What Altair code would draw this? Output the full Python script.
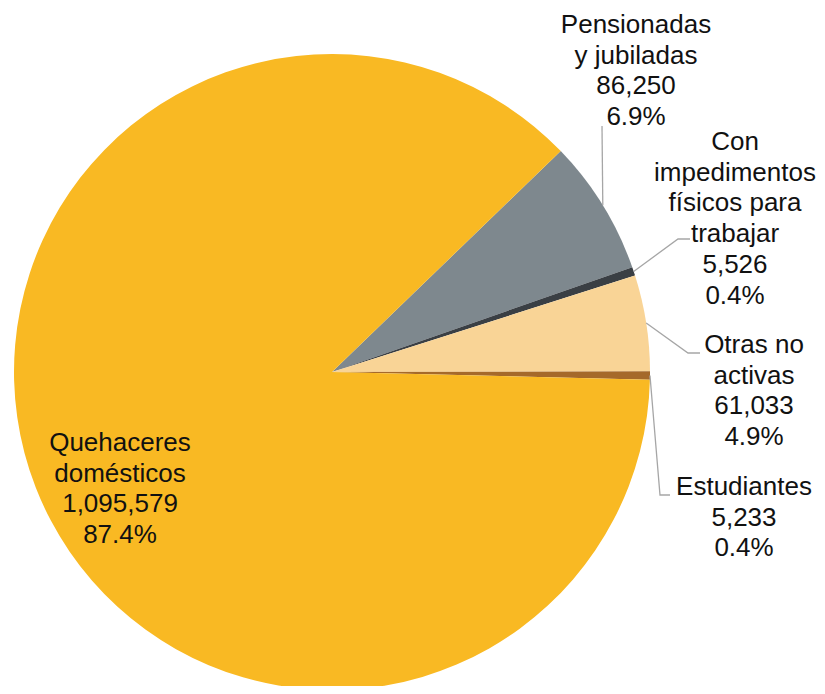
import math
import altair as alt
import pandas as pd

# ---- data ----
categories = ["Pensionadas y jubiladas", "Con impedimentos físicos para trabajar",
              "Otras no activas", "Estudiantes", "Quehaceres domésticos"]
values = [86250, 5526, 61033, 5233, 1095579]
wrapped = ["Pensionadas\ny jubiladas", "Con\nimpedimentos\nfísicos para\ntrabajar",
           "Otras no\nactivas", "Estudiantes", "Quehaceres\ndomésticos"]
colors = ["#7E888E", "#3A3F44", "#F9D496", "#A5692A", "#F9B923"]

# ---- layout ----
W, H = 809, 678
CX, CY, R = 324, 364, 318
START = math.radians(46.0)
# center x and first-line y of each label
label_x = [628, 727, 746, 736, 112]
label_y = [17, 134, 337, 479, 435]
# leader line: elbow and end points (None for no line)
elbow = [None, (670, 231), (680, 345), (652, 487), None]
end = [(594, 118), (682, 231), (692, 345), (662, 487), None]

total = sum(values)
pie = pd.DataFrame({"cat": categories, "value": values, "order": list(range(len(values)))})

texts = []
for i, (w, v) in enumerate(zip(wrapped, values)):
    texts.append({"x": label_x[i], "y": label_y[i],
                  "t": f"{w}\n{v:,}\n{v / total * 100:.1f}%"})
txt = pd.DataFrame(texts)

rows = []
cum = 0
for i, v in enumerate(values):
    mid = START + 2 * math.pi * (cum + v / 2) / total
    cum += v
    if end[i] is None:
        continue
    pts = [(CX + R * math.sin(mid), CY - R * math.cos(mid))]
    if elbow[i] is not None:
        pts.append(elbow[i])
    pts.append(end[i])
    for k, (px, py) in enumerate(pts):
        rows.append({"id": i, "k": k, "x": px, "y": py})
lines = pd.DataFrame(rows)

arcs = alt.Chart(pie).mark_arc(outerRadius=R, stroke=None).encode(
    theta=alt.Theta("value:Q", stack=True,
                    scale=alt.Scale(range=[START, START + 2 * math.pi])),
    order=alt.Order("order:Q"),
    color=alt.Color("cat:N", scale=alt.Scale(domain=categories, range=colors), legend=None),
    x=alt.value(CX), y=alt.value(CY),
)

leader = alt.Chart(lines).mark_line(color="#A6A6A6", strokeWidth=1.3).encode(
    x=alt.X("x:Q", scale=None, axis=None),
    y=alt.Y("y:Q", scale=None, axis=None),
    detail="id:N",
    order="k:Q",
)

labels = alt.Chart(txt).mark_text(
    font="Liberation Sans", fontSize=26, lineHeight=30.7, lineBreak="\n",
    align="center", baseline="middle", color="#111111",
).encode(
    x=alt.X("x:Q", scale=None, axis=None),
    y=alt.Y("y:Q", scale=None, axis=None),
    text="t:N",
)

chart = alt.layer(arcs, leader, labels).properties(
    width=W, height=H, padding=0, autosize=alt.AutoSizeParams(type="none")
).configure_view(stroke=None)

chart.save("out.html", embed_options={"renderer": "svg", "actions": False})
